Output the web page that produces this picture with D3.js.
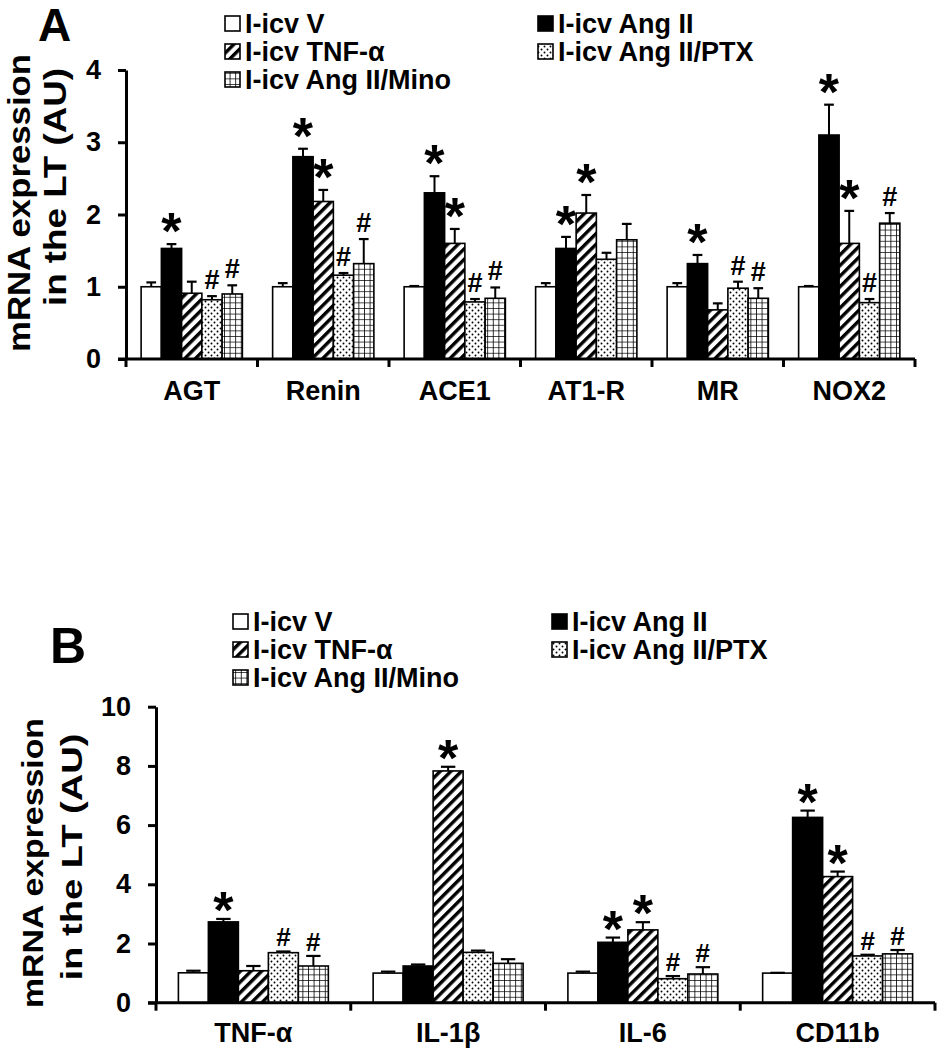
<!DOCTYPE html>
<html>
<head>
<meta charset="utf-8">
<script src="https://cdn.jsdelivr.net/npm/d3@7"></script>
<style>
  html, body { margin: 0; padding: 0; background: #fff; }
  svg { display: block; }
  text { font-family: "Liberation Sans", Arial, sans-serif; font-weight: bold; fill: #000; }
</style>
</head>
<body>
<svg id="chart" width="939" height="1050"></svg>
<script>
// ---------------- DATA ----------------
const seriesNames = ["I-icv V", "I-icv Ang II", "I-icv TNF-α", "I-icv Ang II/PTX", "I-icv Ang II/Mino"];
const seriesFill = ["white", "black", "hatch", "dots", "grid"];
const legendOrder = [0, 2, 4, 1, 3]; // column 1: V, TNF-α, Mino ; column 2: Ang II, PTX

// Panel A
const categoriesA = ["AGT", "Renin", "ACE1", "AT1-R", "MR", "NOX2"];
const meanA_V    = [1.00, 1.00, 1.00, 1.00, 1.00, 1.00];
const meanA_Ang  = [1.53, 2.80, 2.30, 1.53, 1.32, 3.10];
const meanA_TNF  = [0.91, 2.18, 1.60, 2.02, 0.68, 1.60];
const meanA_PTX  = [0.82, 1.16, 0.79, 1.38, 0.98, 0.78];
const meanA_Mino = [0.90, 1.32, 0.84, 1.65, 0.84, 1.88];
const errA_V     = [0.06, 0.05, 0.01, 0.05, 0.05, 0.01];
const errA_Ang   = [0.06, 0.11, 0.23, 0.16, 0.12, 0.42];
const errA_TNF   = [0.16, 0.16, 0.20, 0.25, 0.09, 0.45];
const errA_PTX   = [0.05, 0.03, 0.04, 0.09, 0.09, 0.05];
const errA_Mino  = [0.12, 0.34, 0.15, 0.22, 0.14, 0.14];
const sigA_V     = ["", "", "", "", "", ""];
const sigA_Ang   = ["*", "*", "*", "*", "*", "*"];
const sigA_TNF   = ["", "*", "*", "*", "", "*"];
const sigA_PTX   = ["#", "#", "#", "", "#", "#"];
const sigA_Mino  = ["#", "#", "#", "", "#", "#"];
const ticksA = [0, 1, 2, 3, 4];

// Panel B
const categoriesB = ["TNF-α", "IL-1β", "IL-6", "CD11b"];
const meanB_V    = [1.01, 1.00, 1.00, 1.00];
const meanB_Ang  = [2.73, 1.24, 2.04, 6.26];
const meanB_TNF  = [1.08, 7.83, 2.46, 4.26];
const meanB_PTX  = [1.69, 1.70, 0.81, 1.58];
const meanB_Mino = [1.24, 1.33, 0.97, 1.65];
const errB_V     = [0.07, 0.05, 0.05, 0.01];
const errB_Ang   = [0.10, 0.05, 0.16, 0.23];
const errB_TNF   = [0.16, 0.14, 0.26, 0.17];
const errB_PTX   = [0.04, 0.06, 0.09, 0.04];
const errB_Mino  = [0.34, 0.14, 0.23, 0.13];
const sigB_V     = ["", "", "", ""];
const sigB_Ang   = ["*", "", "*", "*"];
const sigB_TNF   = ["", "*", "*", "*"];
const sigB_PTX   = ["#", "", "#", "#"];
const sigB_Mino  = ["#", "", "#", "#"];
const ticksB = [0, 2, 4, 6, 8, 10];

const yTitle1 = "mRNA expression";
const yTitle2 = "in the LT (AU)";

// ---------------- DRAW ----------------
const svg = d3.select("#chart");
const defs = svg.append("defs");

// hatch "/"
const ph = defs.append("pattern").attr("id", "hatch").attr("patternUnits", "userSpaceOnUse")
  .attr("width", 7.5).attr("height", 7.5).attr("patternTransform", "rotate(45)");
ph.append("rect").attr("width", 7.5).attr("height", 7.5).attr("fill", "white");
ph.append("rect").attr("x", 0).attr("width", 3.4).attr("height", 7.5).attr("fill", "black");
// dots
const pd = defs.append("pattern").attr("id", "dots").attr("patternUnits", "userSpaceOnUse")
  .attr("width", 6).attr("height", 6);
pd.append("rect").attr("width", 6).attr("height", 6).attr("fill", "white");
pd.append("circle").attr("cx", 1.5).attr("cy", 1.5).attr("r", 0.95).attr("fill", "black");
pd.append("circle").attr("cx", 4.5).attr("cy", 4.5).attr("r", 0.95).attr("fill", "black");
// grid
const pg = defs.append("pattern").attr("id", "grid").attr("patternUnits", "userSpaceOnUse")
  .attr("width", 5.6).attr("height", 5.6);
pg.append("rect").attr("width", 5.6).attr("height", 5.6).attr("fill", "white");
pg.append("path").attr("d", "M0,0H5.6M0,0V5.6").attr("stroke", "black").attr("stroke-width", 1.6).attr("fill", "none");

function fillOf(k) {
  const f = seriesFill[k];
  return (f === "white" || f === "black") ? f : "url(#" + f + ")";
}

function drawPanel(cfg) {
  const g = svg.append("g");
  const y = d3.scaleLinear().domain([0, cfg.yMax]).range([cfg.y0, cfg.yTop]);
  const x = d3.scaleBand().domain(cfg.categories).range([cfg.x0, cfg.x1]).padding(0);
  const bw = x.bandwidth();
  const pad = bw * 0.115;
  const xs = d3.scaleBand().domain(d3.range(seriesNames.length)).range([pad, bw - pad]).padding(0);
  const bW = xs.bandwidth();

  // bars
  cfg.categories.forEach((c, i) => {
    seriesNames.forEach((s, k) => {
      const v = cfg.means[k][i], e = cfg.errs[k][i];
      const bx = x(c) + xs(k);
      const cx = bx + bW / 2;
      g.append("rect")
        .attr("x", bx).attr("y", y(v))
        .attr("width", bW).attr("height", y(0) - y(v))
        .attr("fill", fillOf(k)).attr("stroke", "black").attr("stroke-width", 1.6);
      // error bar (upper)
      g.append("line").attr("x1", cx).attr("x2", cx).attr("y1", y(v)).attr("y2", y(v + e))
        .attr("stroke", "black").attr("stroke-width", 2);
      g.append("line").attr("x1", cx - bW * 0.24).attr("x2", cx + bW * 0.24)
        .attr("y1", y(v + e)).attr("y2", y(v + e))
        .attr("stroke", "black").attr("stroke-width", 2.2);
      const sg = cfg.sigs[k][i];
      if (sg === "*") {
        g.append("text").attr("x", cx).attr("y", y(v + e) + cfg.starOff)
          .attr("text-anchor", "middle").style("font-size", cfg.starSize + "px").text("*");
      } else if (sg === "#") {
        g.append("text").attr("x", cx).attr("y", y(v + e) - cfg.hashOff)
          .attr("text-anchor", "middle").style("font-size", cfg.hashSize + "px").text("#");
      }
    });
  });

  // y axis
  const ya = g.append("g").attr("transform", `translate(${cfg.x0},0)`)
    .call(d3.axisLeft(y).tickValues(cfg.ticks).tickSize(8).tickSizeOuter(0).tickPadding(cfg.tickPad).tickFormat(d3.format("d")));
  ya.select(".domain").attr("stroke-width", 3).attr("stroke", "black");
  ya.selectAll(".tick line").attr("stroke-width", 3);
  ya.selectAll(".tick text").style("font-size", cfg.tickFont + "px")
    .style("font-family", '"Liberation Sans", Arial, sans-serif').style("font-weight", "bold");

  // x axis line + boundary ticks
  g.append("line").attr("x1", cfg.x0 - 8).attr("x2", cfg.x1).attr("y1", cfg.y0).attr("y2", cfg.y0)
    .attr("stroke", "black").attr("stroke-width", 3);
  const bounds = cfg.categories.map(c => x(c)).concat([cfg.x1]);
  g.selectAll(".xb").data(bounds).join("line")
    .attr("x1", d => d).attr("x2", d => d).attr("y1", cfg.y0).attr("y2", cfg.y0 + 8)
    .attr("stroke", "black").attr("stroke-width", 3);
  g.selectAll(".xl").data(cfg.categories).join("text")
    .attr("x", d => x(d) + bw / 2).attr("y", cfg.catY)
    .attr("text-anchor", "middle").style("font-size", cfg.catFont + "px").text(d => d);

  // y title
  g.append("text").attr("transform", `translate(${cfg.t1x},${cfg.t1c}) rotate(-90)`)
    .attr("text-anchor", "middle").style("font-size", cfg.titleFont + "px")
    .attr("textLength", cfg.t1len).attr("lengthAdjust", "spacingAndGlyphs").text(yTitle1);
  g.append("text").attr("transform", `translate(${cfg.t2x},${cfg.t2c}) rotate(-90)`)
    .attr("text-anchor", "middle").style("font-size", cfg.titleFont + "px")
    .attr("textLength", cfg.t2len).attr("lengthAdjust", "spacingAndGlyphs").text(yTitle2);

  // panel letter
  g.append("text").attr("x", cfg.letterX).attr("y", cfg.letterY)
    .style("font-size", cfg.letterSize + "px").text(cfg.letter);

  // legend
  legendOrder.forEach((k, j) => {
    const col = j < 3 ? 0 : 1;
    const row = j < 3 ? j : j - 3;
    const lx = cfg.legX[col];
    const ly = cfg.legY[row];
    g.append("rect").attr("x", lx).attr("y", ly - 17).attr("width", 15).attr("height", 15)
      .attr("fill", fillOf(k)).attr("stroke", "black").attr("stroke-width", 1.6);
    g.append("text").attr("x", lx + 20).attr("y", ly).style("font-size", cfg.legFont + "px").text(seriesNames[k]);
  });
}

drawPanel({
  letter: "A", letterX: 38, letterY: 41, letterSize: 46,
  categories: categoriesA,
  means: [meanA_V, meanA_Ang, meanA_TNF, meanA_PTX, meanA_Mino],
  errs: [errA_V, errA_Ang, errA_TNF, errA_PTX, errA_Mino],
  sigs: [sigA_V, sigA_Ang, sigA_TNF, sigA_PTX, sigA_Mino],
  ticks: ticksA, yMax: 4, y0: 359, yTop: 70,
  x0: 126, x1: 915, tickPad: 17, tickFont: 27,
  catY: 400, catFont: 27,
  t1x: 30, t1c: 203, t1len: 298, t2x: 66, t2c: 187, t2len: 238, titleFont: 31,
  legX: [225, 538], legY: [33, 61, 89], legFont: 27,
  starOff: 5, starSize: 52, hashOff: 7, hashSize: 27
});

drawPanel({
  letter: "B", letterX: 50, letterY: 663, letterSize: 50,
  categories: categoriesB,
  means: [meanB_V, meanB_Ang, meanB_TNF, meanB_PTX, meanB_Mino],
  errs: [errB_V, errB_Ang, errB_TNF, errB_PTX, errB_Mino],
  sigs: [sigB_V, sigB_Ang, sigB_TNF, sigB_PTX, sigB_Mino],
  ticks: ticksB, yMax: 10, y0: 1002.7, yTop: 706.7,
  x0: 156, x1: 935, tickPad: 17, tickFont: 27,
  catY: 1042, catFont: 27,
  t1x: 43, t1c: 863, t1len: 290, t2x: 82, t2c: 857, t2len: 247, titleFont: 29,
  legX: [233, 552], legY: [631, 659, 687], legFont: 27,
  starOff: 9, starSize: 52, hashOff: 5, hashSize: 26
});
</script>
</body>
</html>
